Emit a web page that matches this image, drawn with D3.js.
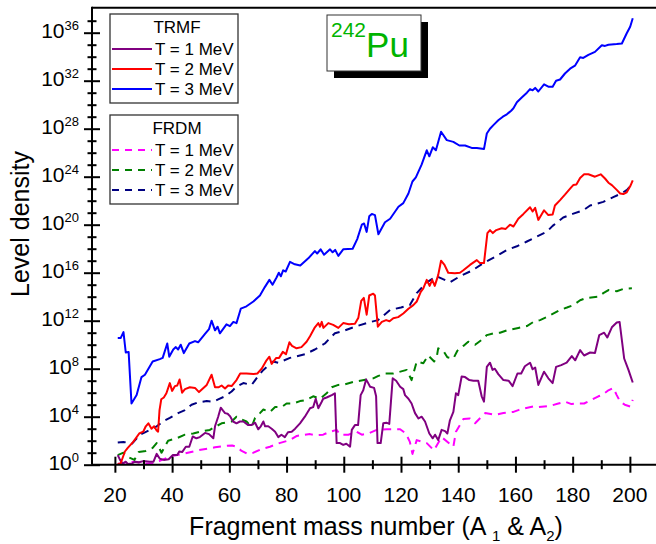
<!DOCTYPE html>
<html>
<head>
<meta charset="utf-8">
<script src="https://cdn.jsdelivr.net/npm/d3@7"></script>
<style>
body { margin: 0; background: #fff; }
text { font-family: "Liberation Sans", Arial, sans-serif; fill: #000; }
</style>
</head>
<body>
<svg id="chart" width="656" height="544"></svg>
<script>
// values are [mass number A, log10(level density)]
let trmfT1 = [[21,0.8],[21.8,0.4],[22.7,0.1],[23.8,0.25],[24.6,0.05],[26,0.1],[27,0.25],[28.5,0.2],[29.9,0.3],[32.2,0.25],[33.5,0.25],[34.6,0.9],[35.7,0.5],[37.1,0.4],[38.8,0.45],[40.2,0.8],[41.8,0.8],[42.5,1.1],[43.5,1.05],[44.8,1.5],[46,1.5],[47.2,2.35],[48.5,2.2],[49.7,2.3],[51.5,2.65],[52.9,2.55],[54.4,2.2],[55,3.2],[56.1,4.0],[57,4.75],[57.8,4.5],[58.5,4.3],[59.4,4.25],[60.2,4.05],[61.3,3.6],[62.5,3.45],[63.7,3.6],[64.9,3.6],[66.6,3.3],[67.7,3.3],[69,3.5],[70.1,2.95],[71,3.2],[71.9,3.6],[72.5,3.2],[73.6,3.2],[74.8,3.0],[76,2.75],[77.1,2.3],[78.2,2.5],[79.4,2.3],[80.5,2.7],[81.8,2.75],[83,3.0],[84.7,3.45],[86.4,4.0],[88.2,4.7],[89.3,4.8],[90.2,5.5],[91.1,4.7],[92.2,5.2],[92.8,5.5],[94,5.6],[95.8,5.8],[96.9,5.95],[97.5,1.8],[98.7,1.8],[99.8,1.65],[100.9,1.75],[102.2,1.5],[102.8,2.9],[103.9,3.3],[105,3.3],[105.9,5.8],[106.8,6.2],[107.8,7.1],[108.3,6.9],[109.2,6.5],[110.6,6.4],[111.3,5.7],[111.8,1.8],[112.9,1.8],[113.8,3.45],[114.9,3.5],[115.9,3.4],[117.1,7.2],[118.3,7.0],[119.7,6.5],[120.8,6.3],[121.4,5.8],[122.6,5.5],[123.7,5.1],[124.3,4.7],[124.9,4.3],[126.1,3.85],[127.2,4.0],[128.4,3.6],[129.9,2.6],[131.1,2.2],[131.9,2.5],[133,2.05],[134.2,2.9],[135.4,2.8],[136.2,2.6],[137.1,3.7],[138.3,4.4],[139.2,5.95],[140,5.8],[141.2,7.35],[142.4,7.3],[143.9,7.05],[145.3,7.0],[147,7.0],[148.2,5.7],[149,5.25],[150,8.15],[151.1,8.5],[152,7.9],[152.8,8.0],[154,7.55],[155.8,7.05],[157.6,7.0],[159,6.55],[160.7,7.6],[162,7.6],[163.3,8.2],[165.1,8.5],[166,7.95],[166.9,8.1],[168,6.65],[170,7.75],[171.5,7.2],[173,6.8],[174.2,8.15],[176,8.3],[177.9,8.5],[179.7,9.05],[180.9,8.7],[182.6,9.55],[184,9.1],[186.1,9.35],[187.8,9.3],[189.3,10.8],[191,11.0],[192.1,10.6],[193.7,11.45],[195.4,11.85],[196.4,11.9],[198,8.85],[199.5,7.9],[201,6.85]]

let trmfT2 = [[21,0.05],[22,0.1],[23.5,1.1],[24.5,1.4],[26.4,1.9],[27.3,2.2],[28.5,2.6],[29.9,2.75],[30.8,3.2],[31.7,3.45],[32.8,3.0],[33.7,3.2],[34.6,2.85],[35.1,2.75],[35.6,4.55],[36.2,5.45],[37.1,5.6],[38,5.95],[39.2,6.8],[40,6.15],[41,6.55],[41.8,6.6],[42.6,7.1],[43.5,6.0],[44.5,6.3],[46.2,6.45],[48,6.4],[49.4,6.05],[52.1,6.65],[53.8,7.5],[55,6.45],[56.2,6.45],[57.3,6.6],[58.5,6.35],[59.6,6.6],[60.8,6.55],[62.5,7.05],[63.8,7.6],[66,7.6],[68.4,7.55],[69.8,7.6],[71.3,8.0],[73,8.7],[74,9.0],[74.8,8.4],[76.4,8.9],[77.4,8.9],[78.7,9.4],[79.8,9.2],[81,10.2],[81.9,9.9],[83.5,9.7],[85.2,9.8],[87,10.25],[88.2,10.7],[89.9,11.45],[91.1,11.8],[91.7,11.5],[92.3,11.9],[92.9,11.4],[94.6,11.8],[96.3,11.65],[98.1,11.4],[99.8,11.8],[101.8,11.7],[103.9,11.75],[105.1,12.25],[106.1,13.65],[107,13.9],[108,12.5],[108.9,14.1],[110.3,14.25],[110.9,14.1],[111.9,11.5],[113.3,11.9],[114.8,12.05],[116,11.95],[117.3,12.2],[119,12.3],[120.8,12.6],[122.6,13.0],[124.3,13.3],[125.5,13.6],[126.9,14.4],[127.8,14.7],[129,15.4],[130,14.9],[130.9,15.4],[131.8,14.9],[133,15.8],[134,17.0],[135.2,16.65],[136.5,16.0],[138.8,15.95],[140.6,16.0],[141.8,16.2],[144.1,16.65],[146.5,17.05],[147.6,16.8],[149,16.8],[150.2,19.3],[151.1,19.55],[152.1,19.3],[153.3,19.55],[155.2,19.7],[156.6,19.65],[158.1,20.0],[159.3,19.85],[161,20.5],[162.8,20.9],[165.1,21.45],[166,21.1],[166.9,21.4],[168,20.4],[170,21.2],[171.5,20.8],[173,20.85],[173.8,21.6],[175.6,22.05],[177.3,22.5],[179.1,23.0],[180.2,23.3],[181.3,23.35],[182.6,23.9],[184,24.2],[185.5,24.2],[187.8,24.0],[189.8,24.2],[191.3,23.85],[192.5,23.5],[193.7,23.3],[195.4,22.9],[196.6,22.6],[197.7,22.55],[198.9,22.7],[200.1,23.2],[201,23.7]]

let trmfT3 = [[21,10.55],[22,10.55],[23,11.05],[23.8,9.35],[24.8,9.4],[25.8,5.1],[27.6,5.8],[29.3,7.3],[30.5,7.5],[33.2,8.6],[35.7,8.8],[36.7,8.9],[38.3,10.1],[39,9.0],[40.4,9.6],[41.3,9.8],[42.1,9.6],[43,10.0],[44.1,9.3],[46,10.1],[48,10.3],[49.1,10.2],[51.5,10.9],[52.9,11.3],[53.8,12.0],[55,11.2],[55.9,11.5],[56.7,10.95],[59,11.7],[60.2,11.55],[61.4,11.9],[62.5,11.8],[64,13.0],[66,13.2],[68.4,13.6],[70.7,14.1],[72.4,14.8],[74,15.4],[75.1,15.0],[76.5,15.6],[77.3,16.0],[78,15.7],[78.8,16.2],[79.7,16.1],[81.2,16.9],[82.9,16.7],[84.8,16.6],[87.6,17.2],[89.9,17.8],[90.7,17.6],[91.9,17.95],[93.1,17.5],[95.2,17.95],[96.1,17.7],[97,17.9],[98.1,17.4],[99.8,17.95],[103.1,18.0],[104.7,18.8],[106.3,20.0],[107.1,20.1],[108,19.4],[108.9,20.7],[109.8,20.9],[110.9,20.8],[112.1,19.2],[114.4,20.2],[116.2,20.5],[119.1,21.5],[120.8,21.8],[122.6,22.6],[124,23.6],[125.2,23.95],[127.2,25.0],[129,26.2],[129.9,25.7],[131.1,26.45],[132.2,26.2],[134,27.75],[136,27.05],[138.3,26.9],[140.4,26.6],[142.4,26.6],[144.7,26.4],[146.5,26.4],[149,26.3],[150,27.6],[151.1,28.0],[152.3,28.3],[154,28.7],[155.6,29.0],[157,29.2],[158.5,29.5],[159.3,29.7],[160.5,30.2],[162.2,30.6],[164,31.0],[165.1,31.3],[166,31.2],[166.9,31.4],[168,31.1],[170,31.7],[171.5,31.5],[173,31.5],[174.2,32.0],[175.6,32.1],[177.3,32.6],[179.1,33.0],[180.8,33.25],[182.6,33.95],[183.7,33.9],[185.5,34.15],[187.8,34.4],[190.2,34.95],[191.3,34.9],[192.5,35.0],[195.4,35.05],[197.2,35.1],[198.9,35.95],[200.1,36.5],[201,37.2]]

let frdmT1 = [[21,0.05],[23.5,0.17],[25,0.2],[27,0.25],[29.9,0.1],[33.3,0.1],[35.5,0.3],[37.5,0.5],[39.2,0.7],[43.9,0.9],[49.1,1.2],[55,1.45],[58,1.55],[61,1.6],[62.5,1.5],[64.3,1.15],[66.3,0.9],[68.4,1.0],[71.3,1.3],[74.2,1.5],[77.5,1.8],[81.2,2.05],[83.6,2.4],[88.2,2.55],[89.9,2.45],[92.8,2.5],[95.2,2.75],[97.5,2.9],[98.7,2.5],[101.6,2.5],[104.5,2.75],[106.3,2.5],[108.6,2.6],[111.5,2.9],[115,2.95],[119.7,2.95],[121.7,2.6],[123.1,1.9],[124,0.9],[125.5,2.05],[129,1.8],[131.5,1.2],[134.2,2.3],[138.3,1.5],[139.2,2.75],[141.8,3.8],[144.1,3.85],[145.9,3.45],[149.4,4.3],[152.9,4.15],[155.8,4.3],[159.3,4.4],[161,4.55],[163.3,4.7],[166.3,4.85],[168,4.8],[172.1,4.9],[175,5.1],[177.3,5.25],[179.6,5.05],[181.7,5.1],[184,5.1],[186.6,5.4],[189,5.7],[190.2,5.8],[192.5,6.2],[194.2,6.4],[195.4,5.8],[196.6,5.25],[198.2,5.0],[200.1,4.85],[201,5.4]]

let frdmT2 = [[21,0.8],[23,1.0],[24.5,0.65],[26.8,0.4],[28.3,1.05],[30.8,1.15],[33.2,1.4],[34.6,1.8],[36.3,1.0],[38.6,2.0],[41.6,2.2],[44.5,2.5],[47.4,2.6],[49.7,2.75],[53.2,2.9],[55,3.15],[57.3,3.45],[60.8,3.6],[62.5,4.0],[64,3.8],[66,3.6],[67.8,3.15],[69,3.9],[70.7,4.3],[71.9,4.6],[74.2,4.4],[76,4.8],[78.3,4.8],[80,5.1],[82.3,5.1],[84.7,5.3],[87,5.4],[89.3,5.7],[91.7,5.5],[94,5.95],[95.8,6.45],[98.1,6.65],[100.4,6.7],[103.3,6.9],[105.7,7.0],[108,7.1],[110.3,7.2],[112.1,7.4],[114.4,7.6],[117.3,7.6],[122,7.9],[123.7,7.05],[125.5,8.6],[127.8,8.45],[129.5,9.1],[131.6,8.6],[132.5,9.0],[133,9.7],[134.8,9.5],[136.2,8.95],[138.3,8.85],[139.7,9.5],[141.8,9.9],[143.5,10.25],[145.9,10.0],[148.2,10.4],[150,10.8],[152.3,10.95],[154.6,11.0],[157,11.2],[161,11.4],[164,11.55],[166.3,11.9],[168.6,12.05],[170.9,12.3],[175.6,12.9],[178,13.1],[180.2,13.3],[182.6,13.7],[184.9,13.9],[189,14.0],[190.7,14.3],[192.5,14.55],[195.4,14.45],[197.7,14.65],[200.7,14.7]]

let frdmT3 = [[21,1.85],[23,1.9],[26,1.75],[28.7,2.5],[30.5,2.7],[32.2,2.9],[34.6,3.2],[37.5,3.7],[39.2,3.9],[42.1,4.3],[44.5,4.55],[46.8,5.0],[49.1,5.2],[52.1,5.3],[54.4,5.25],[56.1,5.45],[58.5,5.7],[60.8,6.1],[62.5,6.5],[64.9,6.8],[67.8,6.65],[70.1,7.4],[71.9,7.9],[75.3,8.6],[77.1,8.5],[81.2,8.9],[86.4,9.2],[89.9,9.6],[93.4,10.1],[94.6,10.4],[96.9,10.95],[99.3,11.1],[103.9,11.5],[108.6,11.85],[112,12.05],[116.2,12.9],[120,13.1],[123.1,13.3],[125.5,14.3],[129,15.2],[132.5,15.7],[137.1,15.2],[140.6,15.7],[145,16.2],[148.8,16.8],[153.5,17.4],[157,17.9],[160.5,18.2],[164,18.6],[167.4,19.0],[170.9,19.4],[173,19.9],[176.7,20.6],[180,20.9],[183.7,21.2],[186.1,21.6],[190.7,21.9],[194.2,22.3],[197,22.6],[199,22.9],[201,23.45]]

let xTicksMajor = [20, 40, 60, 80, 100, 120, 140, 160, 180, 200]
let xTicksMinor = [30, 50, 70, 90, 110, 130, 150, 170, 190]
let yExpMajor = [0, 4, 8, 12, 16, 20, 24, 28, 32, 36]
let yExpAll = d3.range(0, 38)

let legendLabels = ["T = 1 MeV", "T = 2 MeV", "T = 3 MeV"]

let trmfColors = ["#800080", "#ff0000", "#0000ff"]
let frdmColors = ["#ff00ff", "#008000", "#000080"]

const svg = d3.select("#chart")

const plotLeft = 92, plotTop = 8.7, plotBottom = 464.7, plotRight = 662

let x = d3.scaleLinear().domain([12, 210]).range([plotLeft, 658.5])
let y = d3.scaleLog().domain([1, 1e38]).range([plotBottom, plotTop])

svg.append("defs").append("clipPath").attr("id", "clip")
    .append("rect").attr("x", plotLeft).attr("y", plotTop - 2)
    .attr("width", plotRight - plotLeft).attr("height", plotBottom - plotTop + 2)

let line = d3.line()
    .x(d => x(d[0]))
    .y(d => y(Math.pow(10, d[1])))

let series = [
    { data: frdmT1, color: frdmColors[0], dash: "8,6" },
    { data: frdmT2, color: frdmColors[1], dash: "8,6" },
    { data: frdmT3, color: frdmColors[2], dash: "8,6" },
    { data: trmfT1, color: trmfColors[0], dash: null },
    { data: trmfT2, color: trmfColors[1], dash: null },
    { data: trmfT3, color: trmfColors[2], dash: null }
]

let plot = svg.append("g").attr("clip-path", "url(#clip)")
series.forEach(s => {
    plot.append("path")
        .datum(s.data)
        .attr("d", line)
        .attr("fill", "none")
        .attr("stroke", s.color)
        .attr("stroke-width", 2)
        .attr("stroke-linejoin", "round")
        .attr("stroke-dasharray", s.dash)
})

// top frame line
svg.append("line").attr("x1", plotLeft).attr("x2", plotRight).attr("y1", plotTop - 1).attr("y2", plotTop - 1)
    .attr("stroke", "#000").attr("stroke-width", 2)

// x axis
let xAxis = svg.append("g")
    .attr("transform", `translate(0,${plotBottom})`)
    .call(d3.axisBottom(x).tickValues(xTicksMajor.concat(xTicksMinor)).tickSize(0).tickFormat(""))
xAxis.select(".domain").attr("d", `M${plotLeft},0H${plotRight}`).attr("stroke-width", 2)
xAxis.selectAll(".tick line")
    .attr("y1", d => xTicksMajor.includes(d) ? -8 : -4.5)
    .attr("y2", d => xTicksMajor.includes(d) ? 8 : 4.5)
    .attr("stroke-width", 2)

svg.append("g").selectAll("text")
    .data(xTicksMajor)
    .join("text")
    .attr("x", d => x(d))
    .attr("y", plotBottom + 37)
    .attr("text-anchor", "middle")
    .attr("font-size", 21)
    .text(d => d)

// y axis
let yAxis = svg.append("g")
    .attr("transform", `translate(${plotLeft},0)`)
    .call(d3.axisLeft(y).tickValues(yExpAll.map(e => Math.pow(10, e))).tickSize(0).tickFormat(""))
yAxis.select(".domain").attr("d", `M0,${plotTop - 2}V${plotBottom}`).attr("stroke-width", 2)
yAxis.selectAll(".tick line")
    .attr("x1", (d, i) => yExpMajor.includes(i) ? -8 : -4.5)
    .attr("x2", (d, i) => yExpMajor.includes(i) ? 8 : 4.5)
    .attr("stroke-width", 2)

let yLabels = svg.append("g").selectAll("text")
    .data(yExpMajor)
    .join("text")
    .attr("x", 79)
    .attr("y", d => y(Math.pow(10, d)) + 5)
    .attr("text-anchor", "end")
    .attr("font-size", 21)
yLabels.append("tspan").text("10")
yLabels.append("tspan").attr("dy", -8).attr("font-size", 13).text(d => d)

// axis titles
svg.append("text")
    .attr("transform", "translate(29,224) rotate(-90)")
    .attr("text-anchor", "middle")
    .attr("font-size", 25)
    .text("Level density")

let xt = svg.append("text")
    .attr("x", 376)
    .attr("y", 535)
    .attr("text-anchor", "middle")
    .attr("font-size", 25)
xt.append("tspan").text("Fragment mass number (A ")
xt.append("tspan").attr("font-size", 15).attr("dy", 6).text("1")
xt.append("tspan").attr("dy", -6).text(" & A")
xt.append("tspan").attr("font-size", 15).attr("dy", 6).text("2")
xt.append("tspan").attr("dy", -6).text(")")

// legends
function drawLegend(y0, title, colors, dashed) {
    let g = svg.append("g")
    g.append("rect")
        .attr("x", 110).attr("y", y0)
        .attr("width", 128).attr("height", 89)
        .attr("fill", "#fff").attr("stroke", "#333").attr("stroke-width", 1.3)
    g.append("text")
        .attr("x", 177).attr("y", y0 + 19)
        .attr("text-anchor", "middle").attr("font-size", 17)
        .text(title)
    legendLabels.forEach((lab, i) => {
        let ly = y0 + 35 + i * 20
        g.append("line")
            .attr("x1", 112).attr("x2", 152)
            .attr("y1", ly).attr("y2", ly)
            .attr("stroke", colors[i]).attr("stroke-width", 2)
            .attr("stroke-dasharray", dashed ? "7,6" : null)
        g.append("text")
            .attr("x", 155).attr("y", ly + 6)
            .attr("font-size", 17)
            .text(lab)
    })
}
drawLegend(14, "TRMF", trmfColors, false)
drawLegend(115, "FRDM", frdmColors, true)

// nucleus label
svg.append("rect").attr("x", 334).attr("y", 22).attr("width", 94).attr("height", 56).attr("fill", "#000")
svg.append("rect").attr("x", 327).attr("y", 15).attr("width", 94).attr("height", 56)
    .attr("fill", "#fff").attr("stroke", "#333").attr("stroke-width", 1)
let nuc = svg.append("text").attr("x", 331).attr("y", 57)
nuc.append("tspan").attr("font-size", 21).attr("dy", -20).style("fill", "#00b400").text("242")
nuc.append("tspan").attr("font-size", 35).attr("dy", 20).style("fill", "#00b400").text("Pu")
</script>
</body>
</html>
